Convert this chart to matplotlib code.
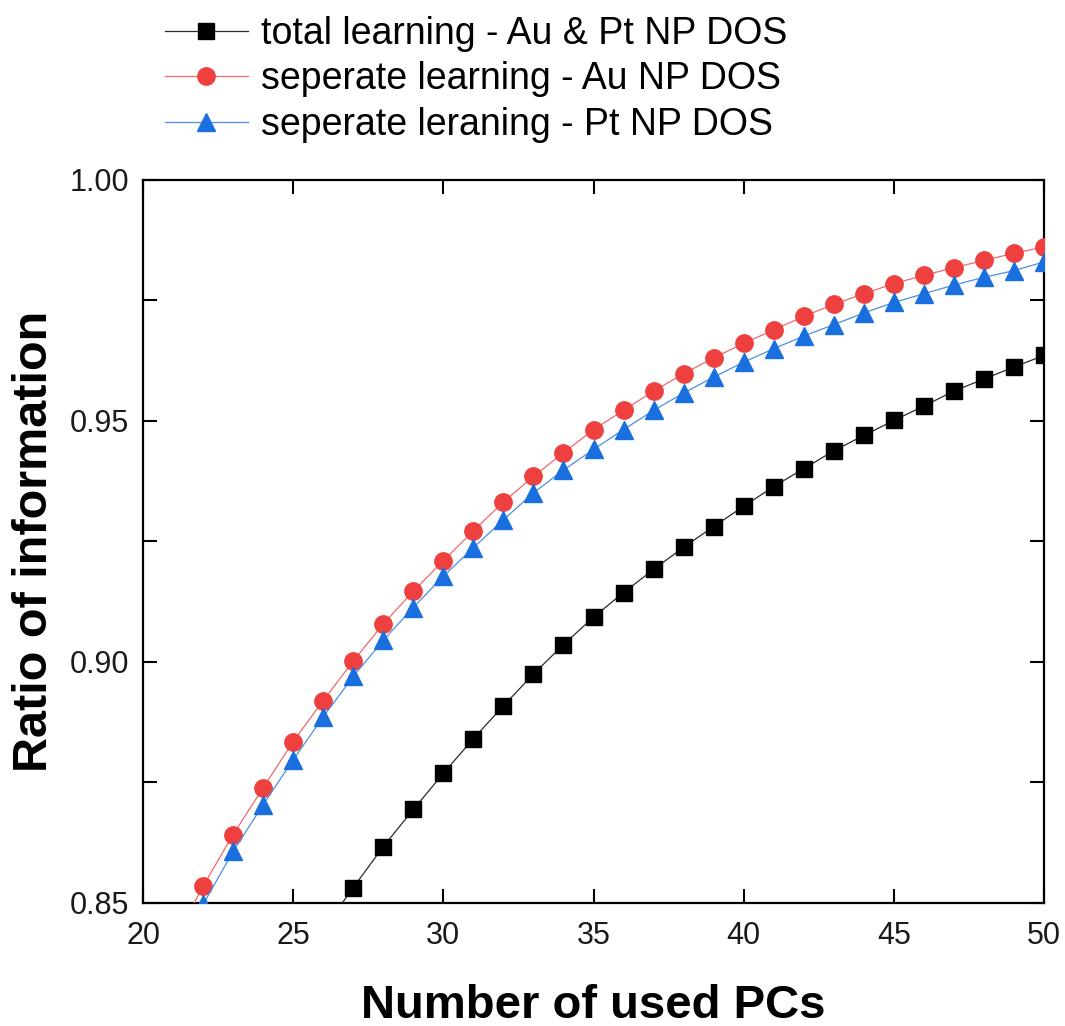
import matplotlib
matplotlib.use("Agg")
import matplotlib.pyplot as plt
from matplotlib.ticker import MultipleLocator, FixedLocator

plt.rcParams['font.family'] = ['Liberation Sans', 'DejaVu Sans']

# ---- data ----
pcs_sep = [21, 22, 23, 24, 25, 26, 27, 28, 29, 30, 31, 32, 33, 34, 35,
           36, 37, 38, 39, 40, 41, 42, 43, 44, 45, 46, 47, 48, 49, 50]
au_sep = [0.8418, 0.8535, 0.8642, 0.8739, 0.8835, 0.8920, 0.9002, 0.9079,
          0.9147, 0.9210, 0.9272, 0.9332, 0.9385, 0.9434, 0.9482, 0.9522,
          0.9562, 0.9598, 0.9631, 0.9661, 0.9689, 0.9717, 0.9742, 0.9764,
          0.9785, 0.9802, 0.9818, 0.9833, 0.9848, 0.9861]
pt_sep = [0.8380, 0.8497, 0.8607, 0.8704, 0.8797, 0.8886, 0.8970, 0.9045,
          0.9113, 0.9178, 0.9237, 0.9295, 0.9351, 0.9398, 0.9441, 0.9482,
          0.9522, 0.9558, 0.9591, 0.9622, 0.9650, 0.9676, 0.9700, 0.9724,
          0.9746, 0.9764, 0.9782, 0.9798, 0.9812, 0.9830]
pcs_total = [26, 27, 28, 29, 30, 31, 32, 33, 34, 35, 36, 37, 38, 39, 40,
             41, 42, 43, 44, 45, 46, 47, 48, 49, 50]
total = [0.8445, 0.8532, 0.8617, 0.8694, 0.8769, 0.8841, 0.8909, 0.8975,
         0.9036, 0.9093, 0.9144, 0.9192, 0.9238, 0.9281, 0.9323, 0.9364,
         0.9401, 0.9438, 0.9470, 0.9501, 0.9531, 0.9562, 0.9587, 0.9612,
         0.9636]

labels = ["total learning - Au & Pt NP DOS",
          "seperate learning - Au NP DOS",
          "seperate leraning - Pt NP DOS"]
x_label = "Number of used PCs"
y_label = "Ratio of information"

fig = plt.figure(figsize=(10.65, 10.26), dpi=100)
ax = fig.add_axes([0.1343, 0.1199, 0.8460, 0.7047])

h1, = ax.plot(pcs_total, total, color='#2a2a2a', lw=0.9, marker='s', ms=12,
              mfc='black', mec='black', label=labels[0], zorder=3)
h2, = ax.plot(pcs_sep, au_sep, color='#f26a6a', lw=0.9, marker='o', ms=12.5,
              mfc='#ef4040', mec='#ef4040', label=labels[1], zorder=3)
h3, = ax.plot(pcs_sep, pt_sep, color='#4a8fe6', lw=0.9, marker='^', ms=13,
              mfc='#1a6fdf', mec='#1a6fdf', label=labels[2], zorder=3)

ax.set_xlim(20, 50)
ax.set_ylim(0.85, 1.00)
ax.xaxis.set_major_locator(MultipleLocator(5))
ax.yaxis.set_major_locator(FixedLocator([0.85, 0.90, 0.95, 1.00]))
ax.yaxis.set_minor_locator(FixedLocator([0.875, 0.925, 0.975]))
ax.set_yticklabels(["0.85", "0.90", "0.95", "1.00"])

for s in ax.spines.values():
    s.set_linewidth(1.6)
ax.tick_params(which='both', direction='in', top=True, right=True,
               length=10, width=1.5, labelsize=22, colors='black')
ax.tick_params(axis='x', pad=13)
ax.tick_params(axis='y', pad=10)
for t in ax.get_xticklabels() + ax.get_yticklabels():
    t.set_color('#1a1a1a')

ax.set_xlabel(x_label, fontsize=34, fontweight='bold')
ax.set_ylabel(y_label, fontsize=35, fontweight='bold')
ax.xaxis.set_label_coords(0.5, -0.112)
ax.yaxis.set_label_coords(-0.096, 0.5)

fig.legend(handles=[h1, h2, h3], loc='upper left',
           bbox_to_anchor=(165 / 1065, 1 - 16 / 1026), frameon=False,
           fontsize=27, handlelength=2.2, handletextpad=0.35,
           labelspacing=0.25, borderpad=0, borderaxespad=0, markerscale=1.0)

fig.savefig("out.png", dpi=100)
